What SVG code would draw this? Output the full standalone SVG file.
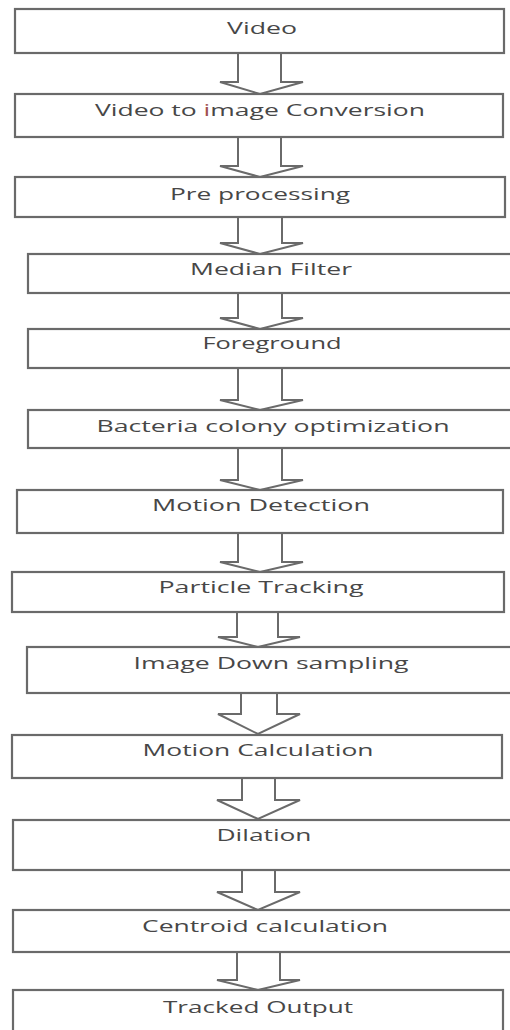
<svg xmlns="http://www.w3.org/2000/svg" width="510" height="1030" viewBox="0 0 510 1030">
<style>
.box{fill:#fff;stroke:#6a6a6a;stroke-width:2.2}
.arr{fill:#fff;stroke:#6a6a6a;stroke-width:2;stroke-linejoin:miter}
.lbl{font-family:"Open Sans","Liberation Sans",sans-serif;font-size:16px;fill:#474747;text-anchor:middle}
</style>
<rect width="510" height="1030" fill="#fff"/>
<g id="connectors">
<path class="arr" d="M238 53V82H220L260 94L303 82H281V53"/>
<path class="arr" d="M238 137V166H220L260 177L303 166H281V137"/>
<path class="arr" d="M238 217V243H220L260 254L303 243H282V217"/>
<path class="arr" d="M238 293V318H220L260 329L303 318H282V293"/>
<path class="arr" d="M238 368V400H220L260 410L303 400H282V368"/>
<path class="arr" d="M238 448V480H220L260 490L303 480H282V448"/>
<path class="arr" d="M238 533V562H220L260 572L303 562H282V533"/>
<path class="arr" d="M237 612V637H218L258 647L300 637H278V612"/>
<path class="arr" d="M241 693V714H218L258 734L300 714H277V693"/>
<path class="arr" d="M242 778V800H217L258 819L300 800H275V778"/>
<path class="arr" d="M242 870V892H217L258 910L300 892H275V870"/>
<path class="arr" d="M237 952V980H217L258 990L300 980H280V952"/>
</g>
<g id="n1"><rect class="box" x="15" y="9" width="489" height="44"/><text class="lbl" x="262" y="34" textLength="70" lengthAdjust="spacingAndGlyphs">Video</text></g>
<g id="n2"><rect class="box" x="15" y="94" width="488" height="43"/><text class="lbl" x="260" y="116" textLength="330" lengthAdjust="spacingAndGlyphs">Video to <tspan fill="#a05050">i</tspan>mage Conversion</text></g>
<g id="n3"><rect class="box" x="15" y="177" width="490" height="40"/><text class="lbl" x="260" y="200" textLength="180" lengthAdjust="spacingAndGlyphs">Pre processing</text></g>
<g id="n4"><rect class="box" x="28" y="254" width="486" height="39"/><text class="lbl" x="271" y="275" textLength="162" lengthAdjust="spacingAndGlyphs">Median Filter</text></g>
<g id="n5"><rect class="box" x="28" y="329" width="486" height="39"/><text class="lbl" x="272" y="349" textLength="139" lengthAdjust="spacingAndGlyphs">Foreground</text></g>
<g id="n6"><rect class="box" x="28" y="410" width="486" height="38"/><text class="lbl" x="273" y="432" textLength="353" lengthAdjust="spacingAndGlyphs">Bacteria colony optimization</text></g>
<g id="n7"><rect class="box" x="17" y="490" width="486" height="43"/><text class="lbl" x="261" y="511" textLength="218" lengthAdjust="spacingAndGlyphs">Motion Detection</text></g>
<g id="n8"><rect class="box" x="12" y="572" width="492" height="40"/><text class="lbl" x="261" y="593" textLength="205" lengthAdjust="spacingAndGlyphs">Particle Tracking</text></g>
<g id="n9"><rect class="box" x="27" y="647" width="487" height="46"/><text class="lbl" x="271" y="669" textLength="275" lengthAdjust="spacingAndGlyphs">Image Down sampling</text></g>
<g id="n10"><rect class="box" x="12" y="735" width="490" height="43"/><text class="lbl" x="258" y="756" textLength="231" lengthAdjust="spacingAndGlyphs">Motion Calculation</text></g>
<g id="n11"><rect class="box" x="13" y="820" width="501" height="50"/><text class="lbl" x="264" y="841" textLength="95" lengthAdjust="spacingAndGlyphs">Dilation</text></g>
<g id="n12"><rect class="box" x="13" y="910" width="501" height="42"/><text class="lbl" x="265" y="932" textLength="246" lengthAdjust="spacingAndGlyphs">Centroid calculation</text></g>
<g id="n13"><rect class="box" x="13" y="990" width="490" height="44"/><text class="lbl" x="258" y="1013" textLength="190" lengthAdjust="spacingAndGlyphs">Tracked Output</text></g>
</svg>
